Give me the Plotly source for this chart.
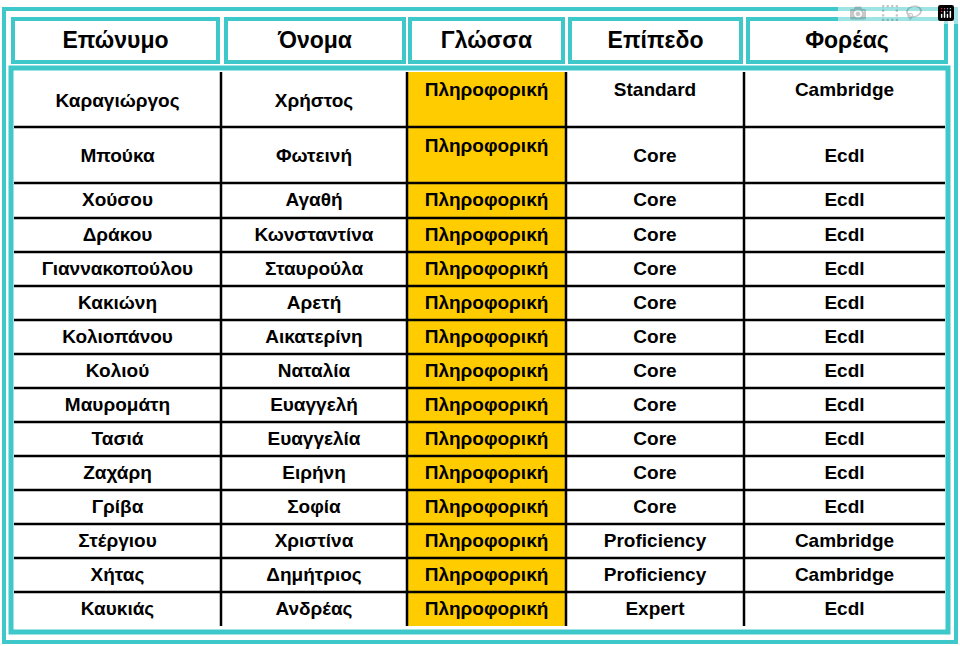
import plotly.graph_objects as go

headers = ["Επώνυμο", "Όνομα", "Γλώσσα", "Επίπεδο", "Φορέας"]
surnames = ["Καραγιώργος", "Μπούκα", "Χούσου", "Δράκου", "Γιαννακοπούλου", "Κακιώνη",
            "Κολιοπάνου", "Κολιού", "Μαυρομάτη", "Τασιά", "Ζαχάρη", "Γρίβα",
            "Στέργιου", "Χήτας", "Καυκιάς"]
names = ["Χρήστος", "Φωτεινή", "Αγαθή", "Κωνσταντίνα", "Σταυρούλα", "Αρετή",
         "Αικατερίνη", "Ναταλία", "Ευαγγελή", "Ευαγγελία", "Ειρήνη", "Σοφία",
         "Χριστίνα", "Δημήτριος", "Ανδρέας"]
languages = ["Πληροφορική"] * 15
levels = ["Standard", "Core", "Core", "Core", "Core", "Core", "Core", "Core",
          "Core", "Core", "Core", "Core", "Proficiency", "Proficiency", "Expert"]
bodies = ["Cambridge", "Ecdl", "Ecdl", "Ecdl", "Ecdl", "Ecdl", "Ecdl", "Ecdl",
          "Ecdl", "Ecdl", "Ecdl", "Ecdl", "Cambridge", "Cambridge", "Ecdl"]

# layout geometry (pixel-like axis units)
col_edges = [14, 221, 407, 566, 744, 945]
row_edges = [72, 127, 183, 218, 252, 286, 320, 354, 388, 422, 456, 490, 524, 558, 592, 626]
teal = "#3EC8C9"
yellow = "#FFCC00"
fnt = "Liberation Sans"

fig = go.Figure()
shapes = []
# outer frame
shapes.append(dict(type="rect", x0=4, x1=956, y0=9, y1=642, line=dict(color=teal, width=4)))
# header boxes
hb = [(13, 218), (226, 404), (410, 563), (570, 741), (748, 946)]
for x0, x1 in hb:
    shapes.append(dict(type="rect", x0=x0, x1=x1, y0=19, y1=62, line=dict(color=teal, width=4)))
# yellow column
shapes.append(dict(type="rect", x0=col_edges[2], x1=col_edges[3], y0=row_edges[0], y1=row_edges[-1],
                   fillcolor=yellow, line=dict(width=0), layer="below"))
# grid
for y in row_edges[1:-1]:
    shapes.append(dict(type="line", x0=col_edges[0], x1=col_edges[-1], y0=y, y1=y,
                       line=dict(color="black", width=2.5)))
for x in col_edges[1:-1]:
    shapes.append(dict(type="line", x0=x, x1=x, y0=row_edges[0], y1=row_edges[-1],
                       line=dict(color="black", width=2.5)))
# body frame
shapes.append(dict(type="rect", x0=11, x1=948, y0=68, y1=632, line=dict(color=teal, width=5)))

centers = [(col_edges[i] + col_edges[i + 1]) / 2 for i in range(5)]
# header text
fig.add_trace(go.Scatter(x=[(a + b) / 2 for a, b in hb], y=[42] * 5, mode="text", text=headers,
                         textfont=dict(family=fnt, size=23, color="black", weight="bold"),
                         hoverinfo="skip"))

cols = [surnames, names, languages, levels, bodies]
for ci, vals in enumerate(cols):
    ys = []
    for ri in range(len(vals)):
        ymid = (row_edges[ri] + row_edges[ri + 1]) / 2
        if ri == 0:
            ymid = 101 if ci < 2 else 90
        elif ri == 1:
            ymid = 146 if ci == 2 else 156
        ys.append(ymid + 1)
    fig.add_trace(go.Scatter(x=[centers[ci]] * len(vals), y=ys, mode="text", text=vals,
                             textfont=dict(family=fnt, size=19, color="black", weight="bold"),
                             hoverinfo="skip"))

fig.update_layout(width=960, height=646, margin=dict(l=0, r=0, t=0, b=0), autosize=False,
                  plot_bgcolor="white", paper_bgcolor="white", showlegend=False, shapes=shapes,
                  xaxis=dict(range=[0, 960], visible=False, fixedrange=True),
                  yaxis=dict(range=[646, 0], visible=False, fixedrange=True))
fig.write_html("out.html", post_script="document.body.style.margin='0';")
